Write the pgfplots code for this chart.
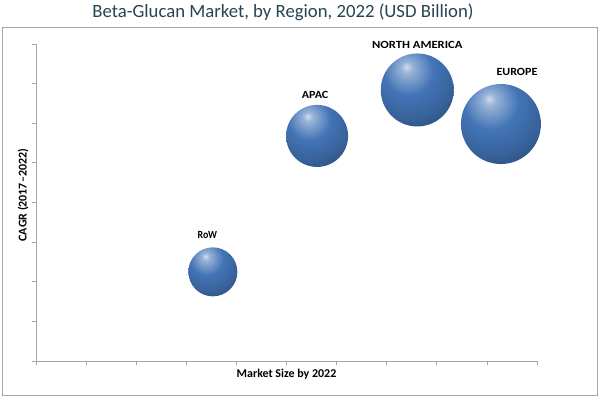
\documentclass[border=0pt]{standalone}
\usepackage{fontspec}
\setmainfont{Carlito}
\usepackage{pgfplots}
\pgfplotsset{compat=1.18}
\definecolor{titlecol}{RGB}{38,68,82}
\definecolor{axcol}{RGB}{166,166,166}
\definecolor{framecol}{RGB}{165,165,165}
\definecolor{bb}{RGB}{66,116,182}
\pgfdeclareradialshading{myball}{\pgfqpoint{-7.5bp}{16bp}}{%
 color(0bp)=(bb!25!white);
 color(4bp)=(bb!55!white);
 color(17bp)=(bb);
 color(30bp)=(bb!85!black);
 color(48bp)=(bb!55!black);
 color(66bp)=(bb!32!black);
 color(100bp)=(bb!32!black)}
\pgfdeclareplotmark{sball}{%
  \pgfpathcircle{\pgfpointorigin}{\pgfplotmarksize}%
  \pgfshadepath{myball}{0}%
  \pgfusepath{}%
}
\tikzset{blab/.style={font=\bfseries\fontsize{11}{13}\selectfont, anchor=base, inner sep=0pt}}
\begin{document}
\begin{tikzpicture}[x=1bp,y=1bp]
\useasboundingbox (0,0) rectangle (600,398);
\draw[framecol, line width=0.8bp] (2,3) rectangle (597,371);
\node[text=titlecol, font=\fontsize{18.8}{21}\selectfont, anchor=base, inner sep=0pt] at (283,381) {Beta-Glucan Market, by Region, 2022 (USD Billion)};
\begin{axis}[
  at={(36bp,37bp)}, anchor=south west,
  scale only axis, width=501bp, height=317bp,
  xmin=0, xmax=10, ymin=0, ymax=8,
  xtick={0,...,10}, ytick={0,...,8},
  xticklabels={}, yticklabels={},
  axis lines*=left,
  tick align=outside,
  major tick length=4bp,
  axis line style={axcol, line width=0.8bp},
  every tick/.style={axcol, line width=0.8bp},
  xlabel={Market Size by 2022},
  ylabel={CAGR (2017--2022)},
  every axis x label/.style={at={(axis description cs:0.5,0)}, anchor=base, inner sep=0pt, yshift=-16.5bp, font=\bfseries\fontsize{12}{14}\selectfont},
  every axis y label/.style={at={(axis description cs:0,0.523)}, anchor=center, rotate=90, yshift=13bp, font=\bfseries\fontsize{12}{14}\selectfont},
  clip=false,
  only marks,
]
\addplot[mark=sball, mark size=24.5bp] coordinates {(3.53,2.25)};
\addplot[mark=sball, mark size=31bp] coordinates {(5.61,5.68)};
\addplot[mark=sball, mark size=36.5bp] coordinates {(7.61,6.84)};
\addplot[mark=sball, mark size=40bp] coordinates {(9.28,5.98)};
\node[blab] at (axis cs:3.42,3.10) {\scalebox{0.9}[1]{RoW}};
\node[blab] at (axis cs:5.57,6.63) {\scalebox{1.1}[1]{APAC}};
\node[blab] at (axis cs:7.61,7.89) {\scalebox{1.15}[1]{NORTH AMERICA}};
\node[blab] at (axis cs:9.60,7.21) {\scalebox{1.1}[1]{EUROPE}};
\end{axis}
\end{tikzpicture}
\end{document}
